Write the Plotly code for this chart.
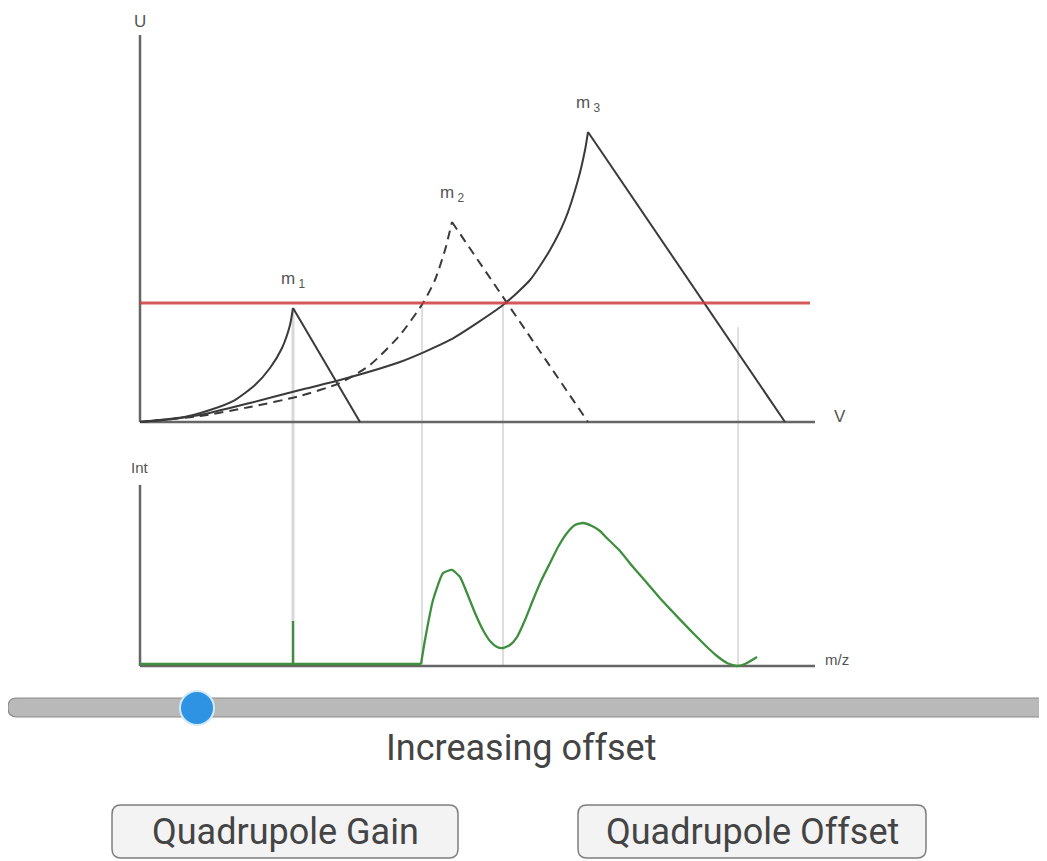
import plotly.graph_objects as go

# ---------------- data ----------------
# Stability regions in the U / V plane (rising edge points, apex last), plus V where the falling edge meets U=0
m1_v = [0, 5.93, 10.37, 14.07, 17.04, 19.26, 21.04, 22.22, 22.67]
m1_u = [0, 1.03, 3.10, 5.68, 9.56, 13.95, 19.12, 25.06, 29.46]
m1_cut = 32.59

m2_v = [0, 8.89, 16.30, 23.70, 29.63, 34.07, 38.52, 41.93, 43.70, 45.19, 46.22]
m2_u = [0, 1.55, 3.88, 6.72, 10.08, 14.73, 22.48, 30.75, 36.69, 44.44, 51.68]
m2_cut = 66.37

m3_v = [0, 8.89, 16.30, 23.70, 29.63, 38.52, 45.93, 53.78, 57.78, 60.74, 62.96, 64.89, 65.93, 66.37]
m3_u = [0, 1.81, 4.91, 8.27, 10.85, 15.50, 21.19, 30.23, 36.69, 44.44, 52.20, 62.53, 70.28, 74.94]
m3_cut = 95.56

scan_u = 30.75          # red scan line level
scan_v_end = 99.26

# guide lines linking upper plot to spectrum
guide_v = [22.67, 41.78, 53.78, 88.6]
guide_top_u = [29.46, 30.75, 30.75, 24.5]

# spectrum (m/z aligned with V) and intensity
base_mz = [0, 41.63]
base_int = [0.52, 0.52]
spike_mz = 22.67
spike_int = 11.63
peaks_mz = [41.63, 42.22, 43.41, 44.89, 46.22, 47.41, 48.44, 49.63,
            50.81, 51.85, 52.89, 53.78, 54.81, 55.85, 57.04, 58.22, 59.41, 60.74, 61.93, 63.26,
            64.44, 65.63, 66.96, 68.15, 69.19, 71.11, 73.04, 75.11, 77.04, 78.81, 80.44, 82.22,
            84.00, 85.48, 86.96, 88.44, 89.63, 91.41]
peaks_int = [0.52, 6.72, 17.05, 24.0, 24.81, 23.0, 18.86, 13.70,
             9.30, 6.46, 4.91, 4.65, 5.43, 7.49, 11.89, 17.05, 21.96, 26.61, 30.75, 34.37,
             36.43, 36.95, 36.18, 34.88, 33.0, 29.72, 25.58, 21.45, 17.5, 14.2, 11.2, 8.01,
             4.91, 2.58, 0.78, 0.0, 0.52, 2.33]

peak_labels = ["m<sub> 1</sub>", "m<sub> 2</sub>", "m<sub> 3</sub>"]

# ---------------- layout constants ----------------
W, H = 1047, 861
OFF = 8                 # page body margin of the html output
U_AX_TOP = 100
INT_BASE = -63.05       # where the spectrum baseline sits on the shared vertical scale
INT_AX_TOP = 46.8
AX_END = 100

AX_COLOR = "#666666"
CURVE = "#3a3a3a"
GREEN = "#3f8f3f"
LABEL_FONT = dict(family="Liberation Sans, Arial, sans-serif", size=17, color="#555555")
SMALL_FONT = dict(family="Liberation Sans, Arial, sans-serif", size=15, color="#555555")

fig = go.Figure()

# guide lines (drawn first, beneath)
for i, (gv, gt) in enumerate(zip(guide_v, guide_top_u)):
    fig.add_trace(go.Scatter(x=[gv, gv], y=[gt, INT_BASE], mode="lines",
                             line=dict(color="#d8d8d8" if i == 0 else "#cdcdcd", width=3 if i == 0 else 1.3),
                             hoverinfo="skip", showlegend=False))

# axes
for xs, ys in [([0, 0], [0, U_AX_TOP]), ([0, AX_END], [0, 0]),
               ([0, 0], [INT_BASE, INT_BASE + INT_AX_TOP]), ([0, AX_END], [INT_BASE, INT_BASE])]:
    fig.add_trace(go.Scatter(x=xs, y=ys, mode="lines", line=dict(color=AX_COLOR, width=2.5),
                             hoverinfo="skip", showlegend=False))

# stability regions: straight falling edges, curved rising edges
def region(v, u, cut, dash=None):
    fig.add_trace(go.Scatter(x=v, y=u, mode="lines",
                             line=dict(color=CURVE, width=2, dash=dash, shape="spline", smoothing=0.6),
                             hoverinfo="skip", showlegend=False))
    fig.add_trace(go.Scatter(x=[v[-1], cut], y=[u[-1], 0], mode="lines",
                             line=dict(color=CURVE, width=2, dash=dash),
                             hoverinfo="skip", showlegend=False))

region(m1_v, m1_u, m1_cut)
region(m2_v, m2_u, m2_cut, dash="9px,6px")
region(m3_v, m3_u, m3_cut)

# scan line
fig.add_trace(go.Scatter(x=[0, scan_v_end], y=[scan_u, scan_u], mode="lines",
                         line=dict(color="rgba(205,60,60,0.85)", width=3),
                         hoverinfo="skip", showlegend=False))

# spectrum
fig.add_trace(go.Scatter(x=base_mz, y=[INT_BASE + i for i in base_int], mode="lines",
                         line=dict(color=GREEN, width=2.3), hoverinfo="skip", showlegend=False))
fig.add_trace(go.Scatter(x=[spike_mz, spike_mz], y=[INT_BASE + base_int[0], INT_BASE + spike_int],
                         mode="lines", line=dict(color=GREEN, width=2.3),
                         hoverinfo="skip", showlegend=False))
fig.add_trace(go.Scatter(x=peaks_mz, y=[INT_BASE + i for i in peaks_int], mode="lines",
                         line=dict(color=GREEN, width=2.3, shape="spline", smoothing=0.5),
                         hoverinfo="skip", showlegend=False))

# ---------------- text labels ----------------
ann = []
apex = [(m1_v[-1], m1_u[-1]), (m2_v[-1], m2_u[-1]), (m3_v[-1], m3_u[-1])]
for (av, au), lab in zip(apex, peak_labels):
    ann.append(dict(x=av, y=au + 4.0, text=lab, showarrow=False, xref="x", yref="y",
                    font=LABEL_FONT, yanchor="bottom", xanchor="center"))
ann.append(dict(x=0, y=U_AX_TOP + 3.5, text="U", showarrow=False, xref="x", yref="y",
                font=LABEL_FONT, yanchor="middle"))
ann.append(dict(x=103.7, y=1.3, text="V", showarrow=False, xref="x", yref="y",
                font=LABEL_FONT, yanchor="middle"))
ann.append(dict(x=0, y=INT_BASE + 51.4, text="Int", showarrow=False, xref="x", yref="y",
                font=SMALL_FONT, yanchor="middle"))
ann.append(dict(x=103.3, y=INT_BASE + 1.6, text="m/z", showarrow=False, xref="x", yref="y",
                font=SMALL_FONT, yanchor="middle"))

# ---------------- widgets (slider + buttons) in paper coordinates ----------------
def px(x):
    return (x - OFF) / W

def py(y):
    return 1 - (y - OFF) / H

def rrect(x0, y0, x1, y1, r):
    rx, ry = r / W, r / H
    X0, X1, Y0, Y1 = px(x0), px(x1), py(y0), py(y1)
    return (f"M {X0+rx},{Y0} L {X1-rx},{Y0} Q {X1},{Y0} {X1},{Y0-ry} "
            f"L {X1},{Y1+ry} Q {X1},{Y1} {X1-rx},{Y1} L {X0+rx},{Y1} "
            f"Q {X0},{Y1} {X0},{Y1+ry} L {X0},{Y0-ry} Q {X0},{Y0} {X0+rx},{Y0} Z")

shapes = []
shapes.append(dict(type="path", xref="paper", yref="paper", path=rrect(8, 698, 1075, 717, 9),
                   fillcolor="#b9b9b9", line=dict(color="#8c8c8c", width=1.2), layer="above"))
shapes.append(dict(type="circle", xref="paper", yref="paper",
                   x0=px(197 - 17), x1=px(197 + 17), y0=py(708 + 17), y1=py(708 - 17),
                   fillcolor="#2f93e4", line=dict(color="#d4e9fa", width=2), layer="above"))
for (bx0, bx1) in [(112, 458), (578, 926)]:
    shapes.append(dict(type="path", xref="paper", yref="paper", path=rrect(bx0, 805, bx1, 858, 9),
                       fillcolor="#f3f3f3", line=dict(color="#7d7d7d", width=1.5), layer="above"))

WFONT = dict(family="Roboto, sans-serif", size=36, color="#444444")
ann.append(dict(x=px(521), y=py(748), xref="paper", yref="paper", text="Increasing offset",
                showarrow=False, font=WFONT, xanchor="center", yanchor="middle"))
ann.append(dict(x=px(285), y=py(832), xref="paper", yref="paper", text="Quadrupole Gain",
                showarrow=False, font=WFONT, xanchor="center", yanchor="middle"))
ann.append(dict(x=px(752), y=py(832), xref="paper", yref="paper", text="Quadrupole Offset",
                showarrow=False, font=WFONT, xanchor="center", yanchor="middle"))

fig.update_layout(
    width=W, height=H,
    margin=dict(l=0, r=0, t=0, b=0),
    paper_bgcolor="white", plot_bgcolor="white",
    xaxis=dict(range=[-(140 - OFF) / 6.75, (W + OFF - 140) / 6.75], visible=False, fixedrange=True),
    yaxis=dict(range=[(422 - H - OFF) / 3.87, (422 - OFF) / 3.87], visible=False, fixedrange=True),
    shapes=shapes, annotations=ann, showlegend=False,
)

fig.write_html("out.html", config={"displayModeBar": False})
